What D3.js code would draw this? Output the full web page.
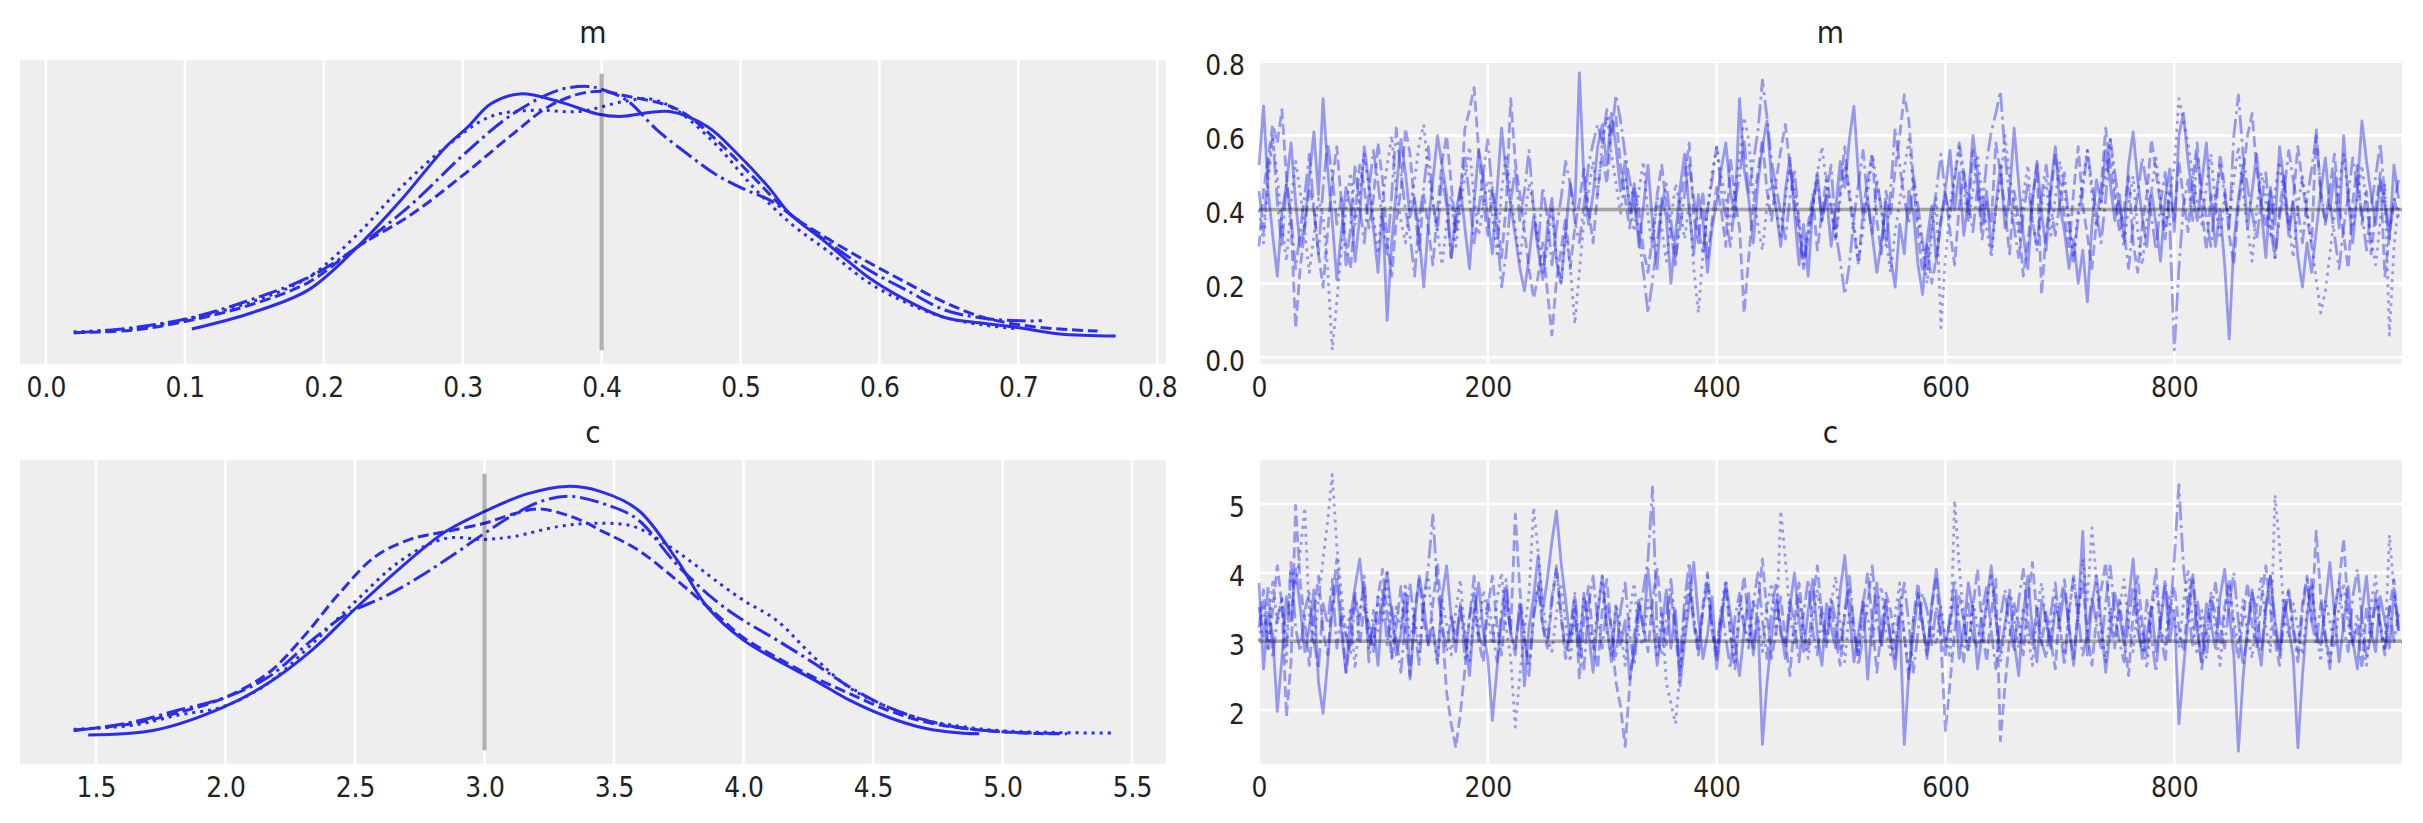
<!DOCTYPE html>
<html>
<head>
<meta charset="utf-8">
<script src="https://cdn.jsdelivr.net/npm/d3@7"></script>
<style>
  html, body { margin: 0; padding: 0; background: #fff; }
  text { font-family: "DejaVu Sans", sans-serif; fill: #222; }
</style>
</head>
<body>
<svg id="chart" width="2423" height="823"></svg>
<script>

// ---- data -------------------------------------------------------------

const chainStyles = ["solid", "dashed", "dashdot", "dotted"];
const draws = d3.range(0, 1000, 4);   // every 4th draw of 1000
const refM = 0.4;
const refC = 3.0;

const kdeTicksM = [0.0, 0.1, 0.2, 0.3, 0.4, 0.5, 0.6, 0.7, 0.8];
const kdeTicksC = [1.5, 2.0, 2.5, 3.0, 3.5, 4.0, 4.5, 5.0, 5.5];
const traceTicksX = [0, 200, 400, 600, 800];
const traceTicksM = [0.0, 0.2, 0.4, 0.6, 0.8];
const traceTicksC = [2, 3, 4, 5];

// kde of m, one grid + density per chain (density scaled to the highest peak)
const mKde0x = [0.105,0.147,0.189,0.224,0.256,0.288,0.304,0.32,0.341,0.369,0.397,0.413,0.449,0.476,0.498,0.52,0.536,0.559,0.592,0.619,0.647,0.675,0.702,0.73,0.77];
const mKde0y = [0.034,0.097,0.19,0.36,0.55,0.76,0.84,0.93,0.97,0.94,0.89,0.88,0.90,0.84,0.73,0.60,0.49,0.39,0.24,0.15,0.08,0.057,0.038,0.014,0.006];
const mKde1x = [0.02,0.063,0.105,0.147,0.189,0.224,0.263,0.301,0.336,0.362,0.384,0.401,0.415,0.454,0.482,0.509,0.536,0.564,0.592,0.619,0.647,0.675,0.702,0.73,0.757];
const mKde1y = [0.02,0.03,0.07,0.13,0.22,0.36,0.49,0.65,0.81,0.92,0.97,0.98,0.965,0.91,0.79,0.64,0.49,0.39,0.30,0.22,0.14,0.08,0.05,0.034,0.026];
const mKde2x = [0.02,0.063,0.105,0.147,0.189,0.224,0.263,0.301,0.336,0.369,0.39,0.399,0.418,0.44,0.462,0.482,0.503,0.52,0.536,0.564,0.592,0.619,0.647,0.675,0.702,0.717];
const mKde2y = [0.018,0.04,0.08,0.15,0.24,0.36,0.53,0.73,0.89,0.985,1.0,0.99,0.945,0.826,0.73,0.65,0.59,0.55,0.49,0.375,0.27,0.19,0.11,0.077,0.067,0.067];
const mKde3x = [0.02,0.063,0.105,0.147,0.189,0.224,0.256,0.288,0.32,0.352,0.384,0.416,0.435,0.454,0.482,0.509,0.536,0.564,0.592,0.619,0.647,0.675,0.70];
const mKde3y = [0.023,0.037,0.077,0.14,0.24,0.41,0.60,0.76,0.88,0.905,0.90,0.94,0.95,0.905,0.77,0.60,0.455,0.34,0.22,0.14,0.08,0.05,0.035];

// kde of c
const cKde0x = [1.47,1.73,1.99,2.164,2.336,2.508,2.68,2.85,3.0,3.164,3.318,3.446,3.594,3.741,3.86,3.997,4.126,4.272,4.407,4.554,4.70,4.85,4.91];
const cKde0y = [0.01,0.03,0.12,0.216,0.35,0.52,0.68,0.82,0.90,0.97,1.0,0.98,0.905,0.71,0.52,0.39,0.31,0.23,0.15,0.083,0.037,0.017,0.015];
const cKde1x = [1.414,1.647,1.819,1.99,2.164,2.30,2.44,2.577,2.715,2.85,3.0,3.11,3.215,3.37,3.446,3.594,3.741,3.89,3.997,4.126,4.272,4.407,4.554,4.70,4.85,5.0,5.145,5.25];
const cKde1y = [0.03,0.057,0.10,0.156,0.256,0.40,0.575,0.72,0.79,0.82,0.853,0.89,0.91,0.866,0.826,0.746,0.627,0.495,0.40,0.32,0.24,0.176,0.11,0.063,0.037,0.023,0.016,0.015];
const cKde2x = [1.414,1.647,1.819,1.99,2.164,2.336,2.473,2.612,2.749,2.887,3.0,3.11,3.232,3.335,3.49,3.594,3.741,3.89,3.997,4.126,4.272,4.407,4.554,4.70,4.85,5.0,5.218];
const cKde2y = [0.027,0.063,0.11,0.156,0.24,0.39,0.495,0.56,0.64,0.733,0.813,0.886,0.945,0.96,0.92,0.866,0.69,0.547,0.468,0.39,0.296,0.203,0.123,0.07,0.037,0.023,0.016];
const cKde3x = [1.414,1.647,1.819,1.99,2.164,2.336,2.508,2.68,2.85,3.0,3.11,3.284,3.42,3.577,3.715,3.81,3.89,3.997,4.126,4.272,4.407,4.554,4.70,4.85,5.0,5.22,5.433];
const cKde3y = [0.033,0.05,0.09,0.123,0.216,0.375,0.548,0.707,0.793,0.789,0.80,0.84,0.853,0.84,0.76,0.69,0.627,0.548,0.468,0.32,0.20,0.123,0.07,0.043,0.027,0.02,0.018];

// traces of m (one value per entry of draws)
const mTrace0 = [0.52,0.68,0.45,0.33,0.22,0.39,0.47,0.58,0.42,0.30,0.36,0.49,0.61,0.44,0.70,0.51,0.37,0.21,0.34,0.46,0.41,0.26,0.38,0.57,0.47,
  0.35,0.23,0.40,0.10,0.31,0.45,0.59,0.50,0.38,0.43,0.33,0.19,0.36,0.48,0.60,0.52,0.44,0.27,0.39,0.46,0.35,0.24,0.42,0.56,0.49,
  0.37,0.28,0.45,0.62,0.50,0.41,0.33,0.24,0.18,0.27,0.38,0.29,0.21,0.35,0.43,0.26,0.20,0.34,0.47,0.40,0.77,0.48,0.36,0.44,0.57,
  0.63,0.52,0.66,0.57,0.45,0.53,0.39,0.47,0.30,0.41,0.52,0.36,0.24,0.43,0.38,0.20,0.33,0.46,0.55,0.40,0.28,0.44,0.37,0.23,0.35,
  0.42,0.51,0.58,0.45,0.38,0.70,0.51,0.43,0.31,0.47,0.57,0.64,0.48,0.40,0.30,0.45,0.54,0.39,0.25,0.36,0.22,0.41,0.50,0.37,0.44,
  0.30,0.40,0.53,0.46,0.59,0.68,0.49,0.38,0.43,0.33,0.23,0.31,0.42,0.27,0.19,0.36,0.28,0.45,0.39,0.25,0.17,0.32,0.41,0.26,0.37,
  0.46,0.56,0.40,0.50,0.33,0.43,0.60,0.50,0.36,0.45,0.29,0.41,0.52,0.35,0.44,0.62,0.47,0.33,0.24,0.42,0.53,0.39,0.29,0.46,0.57,
  0.41,0.34,0.24,0.32,0.20,0.29,0.15,0.36,0.48,0.42,0.56,0.47,0.37,0.44,0.32,0.52,0.61,0.48,0.38,0.30,0.45,0.36,0.26,0.43,0.51,
  0.34,0.60,0.66,0.53,0.44,0.37,0.47,0.58,0.42,0.30,0.40,0.25,0.05,0.31,0.43,0.52,0.35,0.45,0.55,0.40,0.27,0.46,0.36,0.57,0.47,
  0.33,0.42,0.27,0.19,0.31,0.23,0.34,0.45,0.54,0.40,0.50,0.35,0.60,0.43,0.31,0.46,0.64,0.53,0.44,0.36,0.48,0.41,0.32,0.52,0.43];
const mTrace1 = [0.30,0.45,0.54,0.63,0.58,0.67,0.49,0.36,0.08,0.24,0.35,0.46,0.40,0.28,0.19,0.34,0.48,0.57,0.42,0.30,0.24,0.39,0.52,0.46,0.35,
  0.43,0.58,0.48,0.31,0.22,0.37,0.45,0.62,0.55,0.41,0.29,0.44,0.35,0.25,0.40,0.53,0.60,0.47,0.34,0.43,0.62,0.67,0.73,0.56,0.42,
  0.33,0.46,0.38,0.27,0.41,0.70,0.53,0.44,0.34,0.24,0.16,0.22,0.31,0.18,0.06,0.21,0.29,0.38,0.24,0.35,0.42,0.51,0.40,0.31,0.45,
  0.55,0.47,0.61,0.65,0.52,0.43,0.35,0.46,0.40,0.29,0.23,0.33,0.44,0.52,0.41,0.34,0.25,0.42,0.49,0.58,0.38,0.31,0.45,0.27,0.37,
  0.46,0.40,0.30,0.54,0.43,0.35,0.12,0.27,0.41,0.50,0.59,0.45,0.37,0.48,0.56,0.63,0.52,0.42,0.33,0.24,0.36,0.44,0.29,0.39,0.49,
  0.41,0.32,0.46,0.57,0.43,0.34,0.25,0.40,0.48,0.55,0.37,0.28,0.45,0.38,0.51,0.60,0.71,0.64,0.48,0.33,0.23,0.31,0.20,0.27,0.37,
  0.44,0.34,0.25,0.41,0.50,0.38,0.56,0.46,0.32,0.42,0.36,0.58,0.50,0.40,0.28,0.45,0.37,0.22,0.31,0.43,0.52,0.17,0.34,0.44,0.55,
  0.47,0.38,0.29,0.45,0.57,0.41,0.33,0.24,0.37,0.46,0.62,0.52,0.43,0.34,0.40,0.49,0.31,0.23,0.36,0.44,0.59,0.50,0.41,0.32,0.45,
  0.37,0.53,0.43,0.34,0.48,0.58,0.40,0.29,0.44,0.38,0.55,0.46,0.33,0.25,0.41,0.50,0.60,0.66,0.51,0.42,0.35,0.45,0.27,0.40,0.49,
  0.35,0.43,0.57,0.47,0.38,0.30,0.62,0.44,0.36,0.46,0.55,0.41,0.33,0.24,0.42,0.52,0.36,0.45,0.28,0.40,0.50,0.22,0.33,0.43,0.38];
const mTrace2 = [0.45,0.34,0.51,0.60,0.42,0.30,0.47,0.38,0.24,0.34,0.44,0.55,0.40,0.28,0.46,0.58,0.49,0.36,0.43,0.25,0.35,0.52,0.41,0.31,0.45,
  0.56,0.47,0.37,0.28,0.44,0.62,0.50,0.40,0.33,0.22,0.38,0.46,0.57,0.42,0.34,0.49,0.41,0.27,0.36,0.45,0.54,0.43,0.31,0.40,0.50,
  0.59,0.44,0.35,0.19,0.28,0.42,0.51,0.37,0.45,0.56,0.40,0.30,0.46,0.38,0.25,0.35,0.43,0.53,0.47,0.37,0.31,0.41,0.52,0.58,0.63,
  0.58,0.67,0.60,0.71,0.64,0.55,0.48,0.41,0.33,0.23,0.12,0.21,0.31,0.41,0.47,0.37,0.27,0.35,0.44,0.52,0.43,0.35,0.28,0.40,0.48,
  0.57,0.45,0.38,0.30,0.42,0.49,0.59,0.44,0.53,0.61,0.75,0.65,0.53,0.46,0.39,0.32,0.43,0.51,0.36,0.25,0.32,0.41,0.48,0.37,0.44,
  0.52,0.34,0.26,0.17,0.25,0.38,0.47,0.56,0.42,0.33,0.48,0.40,0.30,0.45,0.62,0.52,0.43,0.36,0.49,0.41,0.31,0.24,0.37,0.45,0.55,
  0.44,0.38,0.48,0.58,0.50,0.42,0.34,0.46,0.40,0.53,0.61,0.66,0.72,0.55,0.43,0.35,0.27,0.39,0.47,0.37,0.30,0.44,0.52,0.41,0.33,
  0.42,0.50,0.36,0.26,0.38,0.45,0.56,0.47,0.39,0.31,0.43,0.59,0.50,0.41,0.34,0.24,0.36,0.44,0.54,0.46,0.38,0.29,0.42,0.50,0.36,
  0.02,0.24,0.41,0.48,0.37,0.55,0.45,0.38,0.30,0.43,0.52,0.44,0.35,0.60,0.71,0.55,0.46,0.39,0.32,0.42,0.50,0.35,0.27,0.38,0.45,
  0.56,0.48,0.40,0.31,0.43,0.51,0.60,0.45,0.37,0.42,0.33,0.24,0.35,0.44,0.54,0.46,0.39,0.29,0.41,0.49,0.58,0.43,0.34,0.42,0.48];
const mTrace3 = [0.40,0.31,0.48,0.59,0.49,0.36,0.26,0.42,0.53,0.45,0.34,0.23,0.33,0.43,0.38,0.24,0.02,0.15,0.29,0.40,0.50,0.36,0.44,0.55,0.46,
  0.38,0.28,0.43,0.52,0.60,0.45,0.37,0.31,0.41,0.48,0.58,0.63,0.50,0.42,0.34,0.25,0.36,0.44,0.30,0.40,0.49,0.57,0.43,0.33,0.41,
  0.48,0.38,0.28,0.45,0.55,0.44,0.35,0.26,0.37,0.47,0.41,0.32,0.23,0.30,0.40,0.27,0.20,0.34,0.25,0.09,0.23,0.37,0.45,0.53,0.44,
  0.58,0.65,0.55,0.47,0.39,0.49,0.42,0.34,0.45,0.53,0.38,0.29,0.44,0.35,0.26,0.37,0.47,0.41,0.32,0.42,0.24,0.12,0.28,0.40,0.50,
  0.57,0.49,0.43,0.35,0.46,0.54,0.65,0.59,0.44,0.36,0.29,0.41,0.48,0.40,0.32,0.43,0.52,0.45,0.37,0.27,0.34,0.42,0.50,0.57,0.47,
  0.40,0.32,0.43,0.52,0.45,0.36,0.26,0.35,0.44,0.55,0.47,0.40,0.32,0.23,0.34,0.42,0.51,0.59,0.46,0.37,0.29,0.20,0.33,0.43,0.08,
  0.27,0.41,0.49,0.57,0.46,0.37,0.45,0.55,0.43,0.35,0.27,0.40,0.48,0.60,0.49,0.41,0.33,0.44,0.52,0.37,0.29,0.41,0.48,0.33,0.43,
  0.53,0.45,0.36,0.27,0.40,0.48,0.56,0.44,0.35,0.42,0.50,0.59,0.46,0.38,0.30,0.41,0.49,0.34,0.25,0.37,0.45,0.54,0.43,0.35,0.44,
  0.52,0.70,0.64,0.58,0.49,0.42,0.36,0.46,0.55,0.41,0.32,0.44,0.37,0.48,0.57,0.45,0.35,0.26,0.40,0.50,0.42,0.33,0.45,0.53,0.43,
  0.36,0.27,0.41,0.49,0.40,0.31,0.21,0.12,0.18,0.28,0.39,0.46,0.55,0.44,0.35,0.43,0.52,0.41,0.32,0.25,0.37,0.47,0.06,0.30,0.41];

// traces of c
const cTrace0 = [3.85,2.60,3.40,3.10,1.98,2.75,3.65,3.30,4.05,3.50,2.85,3.20,3.75,2.40,1.95,2.70,3.45,3.90,3.15,2.55,3.35,3.80,4.20,3.60,2.90,
  3.25,2.65,3.55,4.00,3.40,2.80,3.10,3.70,2.45,3.30,3.95,3.55,2.95,3.20,2.70,3.65,4.10,3.35,2.85,3.50,3.05,2.50,3.40,3.85,3.15,
  2.75,1.85,2.60,3.30,3.75,3.10,2.90,3.55,2.35,3.20,3.65,4.25,3.45,3.90,4.45,4.90,4.15,3.60,3.00,3.35,2.80,3.70,3.15,2.55,3.40,
  3.95,3.25,2.70,3.50,2.95,3.30,2.45,2.85,3.60,3.15,4.05,3.40,2.65,3.20,3.75,2.90,3.45,2.35,3.00,3.55,4.15,3.35,2.75,3.10,3.65,
  2.60,3.25,3.85,3.40,2.95,2.50,3.15,3.70,2.80,3.35,1.50,2.40,3.05,3.60,3.20,2.75,3.50,4.00,3.30,2.85,3.45,3.90,3.10,2.65,3.55,
  3.20,2.90,3.75,4.25,3.40,2.70,3.15,3.60,2.45,3.30,3.85,2.95,3.50,3.05,2.60,3.35,1.50,2.55,3.10,3.70,3.25,2.80,3.55,4.05,3.40,
  2.95,3.30,3.65,2.75,3.20,3.85,3.45,2.60,3.10,3.55,4.10,3.35,2.85,3.25,3.70,3.00,2.50,3.40,3.95,3.15,2.70,3.60,3.30,2.90,3.50,
  3.30,3.75,3.20,2.65,3.45,4.60,2.80,3.55,3.95,3.30,2.55,3.15,3.70,3.40,2.95,3.60,4.20,3.35,2.75,3.10,3.50,2.85,3.25,3.80,3.00,
  3.45,1.80,2.60,3.35,3.90,3.15,2.70,3.55,3.25,2.90,3.65,4.05,3.40,2.80,1.40,2.45,3.20,3.75,3.05,2.65,3.50,3.95,3.30,2.85,3.60,
  3.20,2.75,1.45,2.50,3.35,3.85,3.10,2.95,3.55,4.15,3.40,2.70,3.25,3.80,3.00,2.60,3.45,3.95,3.15,2.85,3.65,3.30,2.90,3.70,3.20];
const cTrace1 = [3.20,3.75,2.90,3.45,4.10,3.55,1.90,2.70,4.98,3.85,3.30,2.65,3.40,3.95,3.15,2.80,3.60,4.20,3.35,2.55,3.05,3.70,2.95,3.50,3.25,
  2.85,3.65,4.05,3.40,2.75,3.20,3.80,3.10,2.50,3.45,3.90,3.30,2.95,3.55,4.15,3.25,2.25,1.80,1.45,1.95,2.60,3.35,3.70,3.00,2.70,
  3.50,3.95,3.25,2.80,3.60,3.15,4.85,3.75,3.05,2.65,3.40,3.85,3.20,2.90,3.55,4.10,3.35,2.75,3.10,3.65,2.45,3.30,3.80,3.00,2.60,
  3.45,3.90,3.15,2.40,2.05,1.47,2.35,3.10,3.55,3.20,2.85,3.60,4.05,3.35,2.95,3.70,3.05,2.55,3.40,3.85,3.25,2.80,3.50,4.00,3.15,
  2.70,3.35,3.80,3.10,2.60,3.45,3.95,3.25,2.90,3.55,4.20,3.40,2.75,3.15,3.65,3.00,2.50,3.30,3.85,3.20,2.85,3.60,4.10,3.35,2.95,
  3.50,3.05,2.65,3.40,3.75,3.15,2.80,3.55,4.00,3.30,2.55,3.20,3.70,3.45,2.90,3.60,3.10,2.45,3.35,3.85,3.25,2.75,3.50,3.95,3.00,
  1.70,2.40,3.15,3.65,3.30,2.85,3.50,4.05,3.20,2.70,3.40,3.90,1.55,2.35,3.05,3.55,3.25,2.80,3.60,4.15,3.35,2.95,3.45,3.00,2.60,
  3.55,3.90,3.20,2.75,3.45,3.85,3.10,2.65,3.35,3.75,4.15,3.30,2.90,3.60,3.05,2.50,3.40,3.95,3.25,2.80,3.50,4.05,3.15,2.70,3.45,
  3.80,3.20,2.85,3.55,4.00,3.30,2.60,3.15,3.65,3.40,2.95,3.50,3.90,3.10,2.75,3.35,3.85,3.25,2.90,3.60,4.10,3.45,3.00,2.65,3.40,
  3.75,3.20,2.85,3.55,3.95,3.30,4.60,3.65,3.10,2.70,3.45,3.85,4.50,3.40,2.95,3.25,2.60,3.50,3.05,3.70,3.20,2.80,3.45,3.90,3.15];
const cTrace2 = [3.50,3.05,3.80,2.75,3.35,3.60,2.95,4.15,3.20,2.85,3.45,3.70,3.00,2.60,3.55,3.25,3.90,2.90,3.40,3.10,2.80,3.65,3.30,3.95,2.70,
  3.45,3.15,3.75,2.95,3.50,3.05,2.55,3.30,3.85,3.20,2.65,3.60,4.10,4.84,3.75,3.25,2.85,3.40,3.00,3.55,2.75,3.35,3.95,3.10,2.90,
  3.60,3.20,2.70,3.45,3.90,3.15,2.80,3.55,3.05,2.50,3.35,3.80,3.25,2.95,3.65,4.05,3.40,2.85,3.15,3.70,3.00,2.60,3.50,3.95,3.30,
  2.90,3.55,3.20,2.75,3.45,3.85,3.10,2.65,3.40,3.75,4.20,5.25,3.05,2.80,3.35,3.90,3.25,2.70,3.60,4.15,3.30,2.95,3.45,3.80,3.15,
  2.85,3.50,3.05,2.60,3.35,3.70,3.20,2.90,3.55,4.00,3.30,2.75,3.45,3.85,3.10,2.95,3.60,3.25,2.70,3.40,3.90,3.15,2.80,3.50,3.05,
  3.65,3.30,2.85,3.45,3.95,3.20,2.65,3.10,3.55,4.10,3.35,2.90,3.60,3.00,2.75,3.40,3.85,3.25,2.55,3.15,3.70,3.45,2.95,3.50,3.10,
  2.80,3.40,3.90,3.25,2.70,3.55,3.05,2.90,3.45,3.80,3.15,2.60,3.35,3.75,3.20,2.85,3.60,4.05,3.30,2.95,3.50,3.00,2.75,3.40,3.85,
  3.20,2.65,3.45,3.95,3.35,2.80,3.10,3.65,3.25,2.90,3.55,4.10,3.40,3.00,2.70,3.30,3.80,3.15,2.85,3.60,3.05,2.55,3.35,3.90,3.25,
  4.20,5.28,4.10,3.45,2.95,3.60,3.15,2.75,3.40,3.85,3.25,2.90,3.55,4.00,3.30,2.65,3.10,3.70,3.45,2.85,3.50,3.95,3.20,2.80,3.35,
  3.75,3.15,2.70,3.45,3.90,3.30,2.95,3.55,3.05,2.60,3.40,3.85,3.20,2.85,3.65,4.05,3.35,2.75,3.10,3.60,3.25,2.90,3.50,3.00,3.40];
const cTrace3 = [3.00,3.55,2.85,3.90,3.25,3.65,2.70,4.10,3.80,4.30,4.95,3.35,2.95,3.60,4.20,4.75,5.43,4.40,3.70,3.05,3.50,2.60,3.45,3.80,3.10,
  2.90,3.65,3.30,4.05,2.75,3.50,3.20,3.85,3.00,3.40,2.85,3.55,3.95,3.15,2.65,3.60,3.25,2.80,3.45,3.90,3.10,2.70,3.50,3.05,3.75,
  3.35,2.95,3.60,4.00,3.20,2.75,1.75,2.50,3.15,3.70,4.95,4.30,3.55,3.05,2.85,3.40,3.85,3.25,2.70,3.50,3.00,3.65,3.30,2.90,3.45,
  3.95,3.15,2.80,3.55,3.20,2.65,3.40,3.85,3.05,2.95,3.60,3.30,2.75,3.45,2.40,2.10,1.80,2.55,3.10,3.70,3.35,2.85,3.50,3.95,3.20,
  2.80,3.45,3.90,3.15,2.70,3.55,3.25,3.00,3.60,3.35,2.85,3.50,3.85,3.10,4.90,4.20,3.40,2.95,3.65,3.05,2.75,3.30,3.75,3.20,2.90,
  3.55,3.95,3.25,2.70,3.45,3.10,2.85,3.60,3.35,2.95,3.50,3.80,3.15,2.80,3.40,3.85,3.05,2.60,3.30,3.70,3.20,2.90,3.20,2.95,3.50,
  3.05,2.75,5.05,4.10,3.30,2.85,3.60,3.20,2.95,3.55,4.00,3.35,2.70,3.15,3.75,3.40,2.90,3.50,3.10,2.65,3.45,3.85,3.25,2.95,3.65,
  3.20,2.80,3.40,3.95,3.30,4.20,3.60,4.65,3.85,3.15,2.70,3.50,3.05,3.45,3.90,3.25,2.85,3.55,3.10,2.60,3.40,3.80,3.20,2.95,3.65,
  3.35,2.90,3.55,4.05,3.25,2.80,3.45,3.00,3.70,3.15,2.65,3.40,3.85,3.30,2.95,3.60,3.10,2.75,3.50,3.95,3.20,2.85,5.13,4.40,3.35,
  3.05,3.55,3.20,2.80,3.45,3.90,3.15,2.70,3.60,3.30,2.90,3.50,3.85,3.25,2.95,3.40,3.05,2.65,3.55,3.95,3.20,2.85,4.55,3.75,3.10];

// ---- drawing ----------------------------------------------------------

const svg = d3.select("#chart");

const blue = "#2a2eec";
const dashes = { solid: null, dashed: "11,4.8", dashdot: "19,4.8,3,4.8", dotted: "3,5" };
const textStretch = 1.1;

const colLeft = { x0: 20, x1: 1166 };
const colRight = { x0: 1259, x1: 2402 };
const rowTop = { y0: 60, y1: 364 };
const rowBottom = { y0: 460, y1: 764 };

function addTitle(g, box, label) {
    g.append("text")
        .attr("transform", `translate(${(box.x0 + box.x1) / 2},${box.y0 - 16.7}) scale(1,${textStretch})`)
        .attr("text-anchor", "middle")
        .attr("font-size", 28)
        .text(label);
}

function addBottomAxis(g, box, x, ticks, fmt) {
    const axis = g.append("g")
        .attr("transform", `translate(0,${box.y1})`)
        .call(d3.axisBottom(x).tickValues(ticks).tickFormat(fmt).tickSize(0));
    axis.attr("font-size", 25);
    axis.select(".domain").remove();
    axis.selectAll(".tick text")
        .attr("y", 0)
        .attr("dy", null)
        .attr("transform", `translate(0,32.7) scale(1,${textStretch})`);
}

function addLeftAxis(g, box, y, ticks, fmt) {
    const axis = g.append("g")
        .attr("transform", `translate(${box.x0},0)`)
        .call(d3.axisLeft(y).tickValues(ticks).tickFormat(fmt).tickSize(0).tickPadding(14));
    axis.attr("font-size", 25);
    axis.select(".domain").remove();
    axis.selectAll(".tick text")
        .attr("dy", null)
        .attr("transform", `translate(0,13) scale(1,${textStretch})`);
}

function kdePanel(box, title, xDomain, ticks, curves, ref) {

    const g = svg.append("g").attr("class", "kde-panel");

    const x = d3.scaleLinear().domain(xDomain).range([box.x0, box.x1]);
    const maxD = d3.max(curves, c => d3.max(c.d));
    const y = d3.scaleLinear().domain([-0.105 * maxD, 1.105 * maxD]).range([box.y1, box.y0]);

    g.append("rect")
        .attr("x", box.x0).attr("y", box.y0)
        .attr("width", box.x1 - box.x0).attr("height", box.y1 - box.y0)
        .attr("fill", "#eeeeee");

    g.selectAll(".grid-x")
        .data(ticks)
        .enter().append("line")
        .attr("class", "grid-x")
        .attr("x1", d => x(d)).attr("x2", d => x(d))
        .attr("y1", box.y0).attr("y2", box.y1)
        .attr("stroke", "#fff").attr("stroke-width", 2.5);

    const line = d3.line()
        .x(p => x(p[0]))
        .y(p => y(p[1]))
        .curve(d3.curveCatmullRom.alpha(0.5));

    g.selectAll(".kde")
        .data(curves)
        .enter().append("path")
        .attr("class", "kde")
        .attr("d", c => line(d3.zip(c.x, c.d)))
        .attr("fill", "none")
        .attr("stroke", blue)
        .attr("stroke-width", 3)
        .attr("stroke-dasharray", (c, i) => dashes[chainStyles[i]]);

    g.append("line")
        .attr("x1", x(ref)).attr("x2", x(ref))
        .attr("y1", y(-0.05 * maxD)).attr("y2", y(1.05 * maxD))
        .attr("stroke", "#000").attr("stroke-opacity", 0.3)
        .attr("stroke-width", 4);

    addBottomAxis(g, box, x, ticks, d3.format(".1f"));
    addTitle(g, box, title);
}

function tracePanel(box, title, yDomain, yTicks, yFmt, chains, ref) {

    const g = svg.append("g").attr("class", "trace-panel");

    const x = d3.scaleLinear().domain([0, 999]).range([box.x0, box.x1]);
    const y = d3.scaleLinear().domain(yDomain).range([box.y1, box.y0]);

    g.append("rect")
        .attr("x", box.x0).attr("y", box.y0)
        .attr("width", box.x1 - box.x0).attr("height", box.y1 - box.y0)
        .attr("fill", "#eeeeee");

    g.selectAll(".grid-x")
        .data(traceTicksX)
        .enter().append("line")
        .attr("class", "grid-x")
        .attr("x1", d => x(d)).attr("x2", d => x(d))
        .attr("y1", box.y0).attr("y2", box.y1)
        .attr("stroke", "#fff").attr("stroke-width", 2.5);

    g.selectAll(".grid-y")
        .data(yTicks)
        .enter().append("line")
        .attr("class", "grid-y")
        .attr("x1", box.x0).attr("x2", box.x1)
        .attr("y1", d => y(d)).attr("y2", d => y(d))
        .attr("stroke", "#fff").attr("stroke-width", 2.5);

    const line = d3.line()
        .defined((v, i) => i < draws.length)
        .x((v, i) => x(draws[i]))
        .y(v => y(v));

    g.selectAll(".trace")
        .data(chains)
        .enter().append("path")
        .attr("class", "trace")
        .attr("d", line)
        .attr("fill", "none")
        .attr("stroke", blue)
        .attr("stroke-opacity", 0.45)
        .attr("stroke-width", 2.8)
        .attr("stroke-linejoin", "round")
        .attr("stroke-dasharray", (c, i) => dashes[chainStyles[i]]);

    g.append("line")
        .attr("x1", box.x0).attr("x2", box.x1)
        .attr("y1", y(ref)).attr("y2", y(ref))
        .attr("stroke", "#000").attr("stroke-opacity", 0.35)
        .attr("stroke-width", 3.5);

    addBottomAxis(g, box, x, traceTicksX, d3.format("d"));
    addLeftAxis(g, box, y, yTicks, yFmt);
    addTitle(g, box, title);
}

kdePanel(
    { ...colLeft, ...rowTop }, "m", [-0.0187, 0.8063], kdeTicksM,
    [ { x: mKde0x, d: mKde0y }, { x: mKde1x, d: mKde1y }, { x: mKde2x, d: mKde2y }, { x: mKde3x, d: mKde3y } ],
    refM
);

kdePanel(
    { ...colLeft, ...rowBottom }, "c", [1.2066, 5.631], kdeTicksC,
    [ { x: cKde0x, d: cKde0y }, { x: cKde1x, d: cKde1y }, { x: cKde2x, d: cKde2y }, { x: cKde3x, d: cKde3y } ],
    refC
);

tracePanel(
    { ...colRight, ...rowTop }, "m", [-0.018, 0.8046], traceTicksM, d3.format(".1f"),
    [ mTrace0, mTrace1, mTrace2, mTrace3 ],
    refM
);

tracePanel(
    { ...colRight, ...rowBottom }, "c", [1.214, 5.64], traceTicksC, d3.format("d"),
    [ cTrace0, cTrace1, cTrace2, cTrace3 ],
    refC
);

</script>
</body>
</html>
